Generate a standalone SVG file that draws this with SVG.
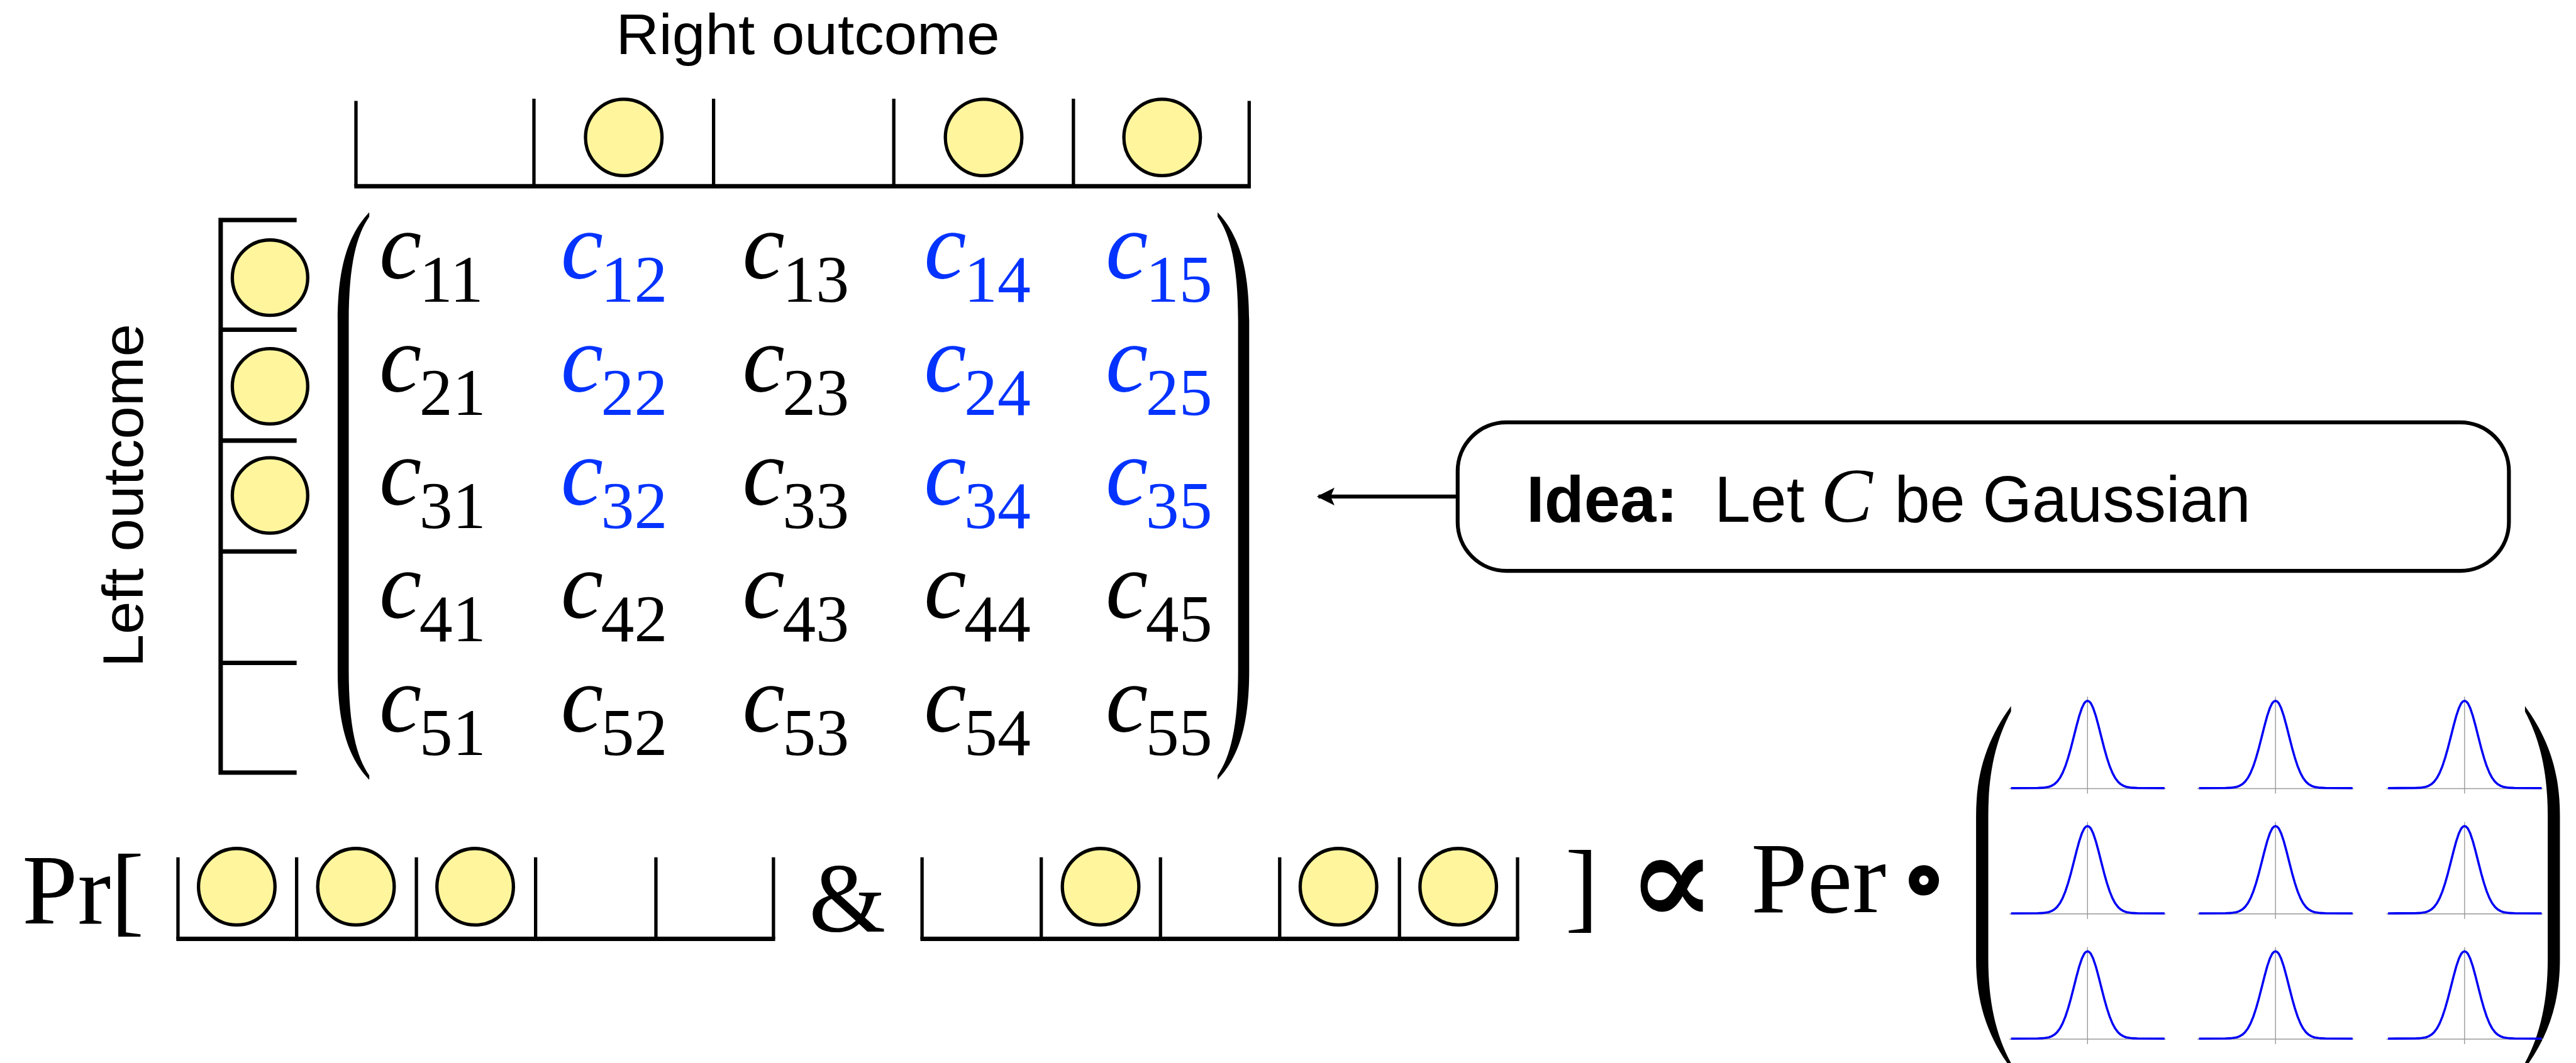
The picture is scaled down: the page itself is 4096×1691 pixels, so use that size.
<svg xmlns="http://www.w3.org/2000/svg" xmlns:xlink="http://www.w3.org/1999/xlink" width="4096" height="1691" viewBox="0 0 4096 1691">
  <style>
    .label { font-family: "Liberation Sans", Arial, sans-serif; fill: #000; }
    .bold { font-weight: bold; }
    .math { font-family: "Liberation Serif", "DejaVu Serif", serif; fill: #000; }
    .ent { font-family: "Liberation Serif", "DejaVu Serif", serif; font-size: 172px; font-style: italic; fill: #000; }
    .ent tspan { font-style: normal; font-size: 120px; }
    .blue { fill: #0433FF; }
    .slot { fill: none; stroke: #000; stroke-width: 6; }
    .base { fill: none; stroke: #000; stroke-width: 8; }
    .photon { fill: #FFF59D; stroke: #000; stroke-width: 6; }
    .paren { fill: #000; stroke: none; }
    .grid { stroke: #9a9a9a; stroke-width: 1.6; fill: none; }
    .bell { stroke: #0000F5; stroke-width: 4; fill: none; stroke-linejoin: round; }
    .box { fill: #fff; stroke: #000; stroke-width: 7; }
    .link { stroke: #000; stroke-width: 7; fill: none; }
  </style>
  <defs>
    <!-- big round brackets -->
    <path id="parenC" class="paren" d="M666,383 C631,420 609,475 609,580 L609,1210 C609,1315 631,1370 666,1407 L666,1399 C643,1366 629,1312 629,1210 L629,580 C629,478 643,424 666,391 Z"/>
    <path id="parenG" class="paren" d="M3627,1274 C3585,1332 3564,1392 3564,1472 L3564,1730 C3564,1810 3585,1870 3627,1928 L3627,1918 C3599,1866 3586,1806 3586,1730 L3586,1472 C3586,1396 3599,1336 3627,1284 Z"/>
    <!-- one small density plot: axis, centre line and a bell curve -->
    <g id="bellPlot">
      <line class="grid" x1="-141" y1="0" x2="141" y2="0"/>
      <line class="grid" x1="0" y1="-166" x2="0" y2="9"/>
      <path class="bell" d="M-138,-1 L-90,-1.1 L-80,-1.6 L-70,-3.2 L-65,-5 L-60,-7.9 L-55,-12.4 L-50,-19 L-45,-28.2 L-40,-40.4 L-35,-55.6 L-30,-73.3 L-25,-92.8 L-20,-112.6 L-15,-131 L-10,-145.9 L-6,-154 L-3,-157.3 L0,-158.5 L3,-157.3 L6,-154 L10,-145.9 L15,-131 L20,-112.6 L25,-92.8 L30,-73.3 L35,-55.6 L40,-40.4 L45,-28.2 L50,-19 L55,-12.4 L60,-7.9 L65,-5 L70,-3.2 L80,-1.6 L90,-1.1 L139,-1"/>
    </g>
    <marker id="arrowHead" viewBox="0 0 10 10" refX="9" refY="5" markerWidth="4.6" markerHeight="5" orient="auto" markerUnits="strokeWidth">
      <path d="M0,0 L10,5 L0,10 L2.2,5 Z" fill="#000"/>
    </marker>
  </defs>

  <g transform="scale(0.88162)">

    <!-- right outcome register -->
    <g id="right-outcome">
      <text class="label" x="1111" y="98" font-size="104" textLength="692" lengthAdjust="spacingAndGlyphs">Right outcome</text>
      <path class="slot" d="M642,182 V336 M963,178 V336 M1287,178 V336 M1612,178 V336 M1936,178 V336 M2253,182 V336"/>
      <line class="base" x1="639" y1="336" x2="2256" y2="336"/>
      <circle class="photon" cx="1125" cy="248" r="69"/>
      <circle class="photon" cx="1774" cy="248" r="69"/>
      <circle class="photon" cx="2096" cy="248" r="69"/>
    </g>

    <!-- left outcome register -->
    <g id="left-outcome">
      <text class="label" transform="translate(258,1204) rotate(-90)" x="0" y="0" font-size="104" textLength="620" lengthAdjust="spacingAndGlyphs">Left outcome</text>
      <path class="base" d="M535,397 H398 V1394 H535 M398,595 H535 M398,795 H535 M398,995 H535 M398,1196 H535" stroke-width="7"/>
      <circle class="photon" cx="487" cy="501" r="68"/>
      <circle class="photon" cx="487" cy="697" r="68"/>
      <circle class="photon" cx="487" cy="894" r="68"/>
    </g>

    <!-- 5x5 matrix C -->
    <g id="matrix-c">
      <use xlink:href="#parenC"/>
      <use xlink:href="#parenC" transform="translate(2862,0) scale(-1,1)"/>
      <text class="ent" x="684" y="502">c<tspan dx="-4" dy="42">11</tspan></text>
      <text class="ent blue" x="1011.5" y="502">c<tspan dx="-4" dy="42">12</tspan></text>
      <text class="ent" x="1339" y="502">c<tspan dx="-4" dy="42">13</tspan></text>
      <text class="ent blue" x="1666.5" y="502">c<tspan dx="-4" dy="42">14</tspan></text>
      <text class="ent blue" x="1994" y="502">c<tspan dx="-4" dy="42">15</tspan></text>

      <text class="ent" x="684" y="706.5">c<tspan dx="-4" dy="42">21</tspan></text>
      <text class="ent blue" x="1011.5" y="706.5">c<tspan dx="-4" dy="42">22</tspan></text>
      <text class="ent" x="1339" y="706.5">c<tspan dx="-4" dy="42">23</tspan></text>
      <text class="ent blue" x="1666.5" y="706.5">c<tspan dx="-4" dy="42">24</tspan></text>
      <text class="ent blue" x="1994" y="706.5">c<tspan dx="-4" dy="42">25</tspan></text>

      <text class="ent" x="684" y="911">c<tspan dx="-4" dy="42">31</tspan></text>
      <text class="ent blue" x="1011.5" y="911">c<tspan dx="-4" dy="42">32</tspan></text>
      <text class="ent" x="1339" y="911">c<tspan dx="-4" dy="42">33</tspan></text>
      <text class="ent blue" x="1666.5" y="911">c<tspan dx="-4" dy="42">34</tspan></text>
      <text class="ent blue" x="1994" y="911">c<tspan dx="-4" dy="42">35</tspan></text>

      <text class="ent" x="684" y="1115.5">c<tspan dx="-4" dy="42">41</tspan></text>
      <text class="ent" x="1011.5" y="1115.5">c<tspan dx="-4" dy="42">42</tspan></text>
      <text class="ent" x="1339" y="1115.5">c<tspan dx="-4" dy="42">43</tspan></text>
      <text class="ent" x="1666.5" y="1115.5">c<tspan dx="-4" dy="42">44</tspan></text>
      <text class="ent" x="1994" y="1115.5">c<tspan dx="-4" dy="42">45</tspan></text>

      <text class="ent" x="684" y="1320">c<tspan dx="-4" dy="42">51</tspan></text>
      <text class="ent" x="1011.5" y="1320">c<tspan dx="-4" dy="42">52</tspan></text>
      <text class="ent" x="1339" y="1320">c<tspan dx="-4" dy="42">53</tspan></text>
      <text class="ent" x="1666.5" y="1320">c<tspan dx="-4" dy="42">54</tspan></text>
      <text class="ent" x="1994" y="1320">c<tspan dx="-4" dy="42">55</tspan></text>
    </g>

    <!-- idea callout -->
    <g id="idea">
      <rect class="box" x="2629" y="762" width="1896" height="268" rx="88" ry="88"/>
      <text class="label bold" x="2753" y="941" font-size="117">Idea:</text>
      <text class="label" x="3092" y="941" font-size="117">Let</text>
      <text class="math" x="3284" y="941" font-size="140" font-style="italic">C</text>
      <text class="label" x="3417" y="941" font-size="117" textLength="642" lengthAdjust="spacingAndGlyphs">be Gaussian</text>
    </g>

    <!-- connectors -->
    <g id="connectors">
      <line class="link" x1="2629" y1="896" x2="2378" y2="896" marker-end="url(#arrowHead)"/>
    </g>

    <!-- probability expression -->
    <g id="pr-expr">
      <text class="math" x="40" y="1666" font-size="180">Pr[</text>
      <path class="slot" d="M321,1547 V1695 M535,1547 V1695 M751,1547 V1695 M966,1547 V1695 M1183,1547 V1695 M1395,1547 V1695"/>
      <line class="base" x1="318" y1="1694" x2="1398" y2="1694"/>
      <circle class="photon" cx="427" cy="1600" r="69"/>
      <circle class="photon" cx="642" cy="1600" r="69"/>
      <circle class="photon" cx="857" cy="1600" r="69"/>

      <text class="math" x="1459" y="1680" font-size="178">&amp;</text>

      <path class="slot" d="M1663,1547 V1695 M1878,1547 V1695 M2093,1547 V1695 M2308,1547 V1695 M2524,1547 V1695 M2737,1547 V1695"/>
      <line class="base" x1="1660" y1="1694" x2="2740" y2="1694"/>
      <circle class="photon" cx="1985" cy="1600" r="69"/>
      <circle class="photon" cx="2414" cy="1600" r="69"/>
      <circle class="photon" cx="2630" cy="1600" r="69"/>

      <text class="math" x="2823" y="1659" font-size="180">]</text>
      <text class="math" x="3015" y="1668" font-size="235" text-anchor="middle" stroke="#000" stroke-width="4">∝</text>
      <text class="math" x="3158" y="1646" font-size="183">Per</text>
      <text class="math" x="3470" y="1640" font-size="165" font-weight="bold" text-anchor="middle" stroke="#000" stroke-width="4">∘</text>
    </g>

    <!-- 3x3 matrix of Gaussian densities -->
    <g id="gauss-matrix">
      <use xlink:href="#parenG"/>
      <use xlink:href="#parenG" transform="translate(8181,0) scale(-1,1)"/>
      <use xlink:href="#bellPlot" transform="translate(3765,1423)"/>
      <use xlink:href="#bellPlot" transform="translate(4104,1423)"/>
      <use xlink:href="#bellPlot" transform="translate(4445,1423)"/>
      <use xlink:href="#bellPlot" transform="translate(3765,1649)"/>
      <use xlink:href="#bellPlot" transform="translate(4104,1649)"/>
      <use xlink:href="#bellPlot" transform="translate(4445,1649)"/>
      <use xlink:href="#bellPlot" transform="translate(3765,1875)"/>
      <use xlink:href="#bellPlot" transform="translate(4104,1875)"/>
      <use xlink:href="#bellPlot" transform="translate(4445,1875)"/>
    </g>
  </g>
</svg>
